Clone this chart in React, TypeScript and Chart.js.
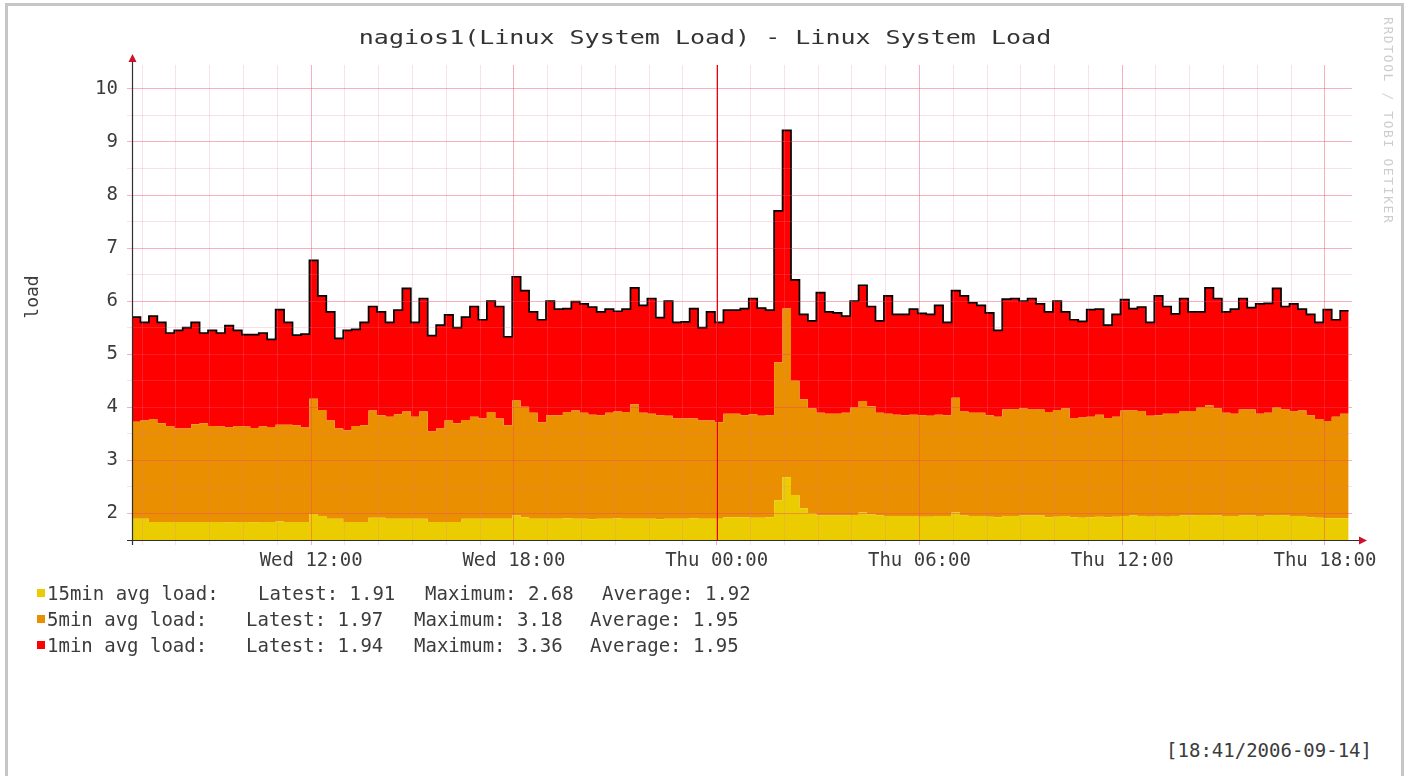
import { useEffect, useRef } from 'react';
import { Chart, registerables } from 'chart.js';

Chart.register(...registerables);

// Time axis in hours counted from Wed 00:00; one sample every 15 minutes
const START_HOUR = 6.7;
const STEP_HOURS = 0.25;
const X_MIN = 6.7;
const X_MAX = 42.8;
const Y_MIN = 1.5;
const Y_MAX = 10.45;

const load15 = [
  1.90, 1.90, 1.84, 1.84, 1.84, 1.84, 1.84, 1.84, 1.84, 1.84,
  1.84, 1.83, 1.84, 1.84, 1.83, 1.84, 1.84, 1.85, 1.84, 1.84,
  1.84, 1.99, 1.95, 1.90, 1.90, 1.84, 1.84, 1.84, 1.92, 1.92,
  1.90, 1.90, 1.90, 1.90, 1.90, 1.84, 1.84, 1.84, 1.84, 1.90,
  1.90, 1.90, 1.90, 1.90, 1.90, 1.96, 1.93, 1.90, 1.90, 1.90,
  1.90, 1.91, 1.90, 1.90, 1.89, 1.90, 1.90, 1.91, 1.90, 1.90,
  1.90, 1.90, 1.89, 1.90, 1.90, 1.90, 1.91, 1.90, 1.90, 1.90,
  1.93, 1.93, 1.93, 1.92, 1.92, 1.93, 2.25, 2.68, 2.35, 2.10,
  2.00, 1.96, 1.96, 1.96, 1.96, 1.97, 2.02, 1.98, 1.96, 1.95,
  1.95, 1.95, 1.95, 1.94, 1.94, 1.95, 1.95, 2.02, 1.96, 1.95,
  1.95, 1.94, 1.93, 1.95, 1.95, 1.96, 1.96, 1.96, 1.93, 1.94,
  1.95, 1.93, 1.92, 1.93, 1.94, 1.93, 1.94, 1.95, 1.96, 1.95,
  1.94, 1.95, 1.94, 1.95, 1.96, 1.96, 1.97, 1.97, 1.96, 1.95,
  1.95, 1.96, 1.96, 1.95, 1.96, 1.97, 1.96, 1.95, 1.95, 1.93,
  1.92, 1.91, 1.91, 1.91,
];

const load5 = [
  1.83, 1.85, 1.94, 1.86, 1.81, 1.76, 1.76, 1.84, 1.86, 1.81,
  1.80, 1.79, 1.81, 1.80, 1.78, 1.80, 1.79, 1.82, 1.83, 1.82,
  1.78, 2.17, 2.00, 1.85, 1.70, 1.73, 1.81, 1.82, 2.02, 1.93,
  1.92, 1.97, 2.02, 1.92, 2.02, 1.71, 1.76, 1.91, 1.86, 1.86,
  1.92, 1.89, 2.01, 1.89, 1.76, 2.17, 2.08, 2.00, 1.82, 1.95,
  1.95, 2.00, 2.04, 2.00, 1.97, 1.95, 2.00, 2.01, 2.01, 2.16,
  2.00, 1.98, 1.96, 1.94, 1.89, 1.89, 1.88, 1.85, 1.85, 1.82,
  1.95, 1.95, 1.92, 1.95, 1.92, 1.92, 2.60, 3.18, 2.15, 2.05,
  1.98, 1.94, 1.92, 1.92, 1.94, 2.03, 2.10, 2.04, 1.94, 1.93,
  1.91, 1.90, 1.91, 1.91, 1.90, 1.91, 1.90, 2.16, 1.96, 1.95,
  1.95, 1.91, 1.89, 2.01, 2.02, 2.02, 2.01, 2.00, 1.98, 2.01,
  2.03, 1.87, 1.89, 1.89, 1.92, 1.87, 1.88, 1.99, 1.98, 1.98,
  1.90, 1.90, 1.94, 1.93, 1.97, 1.97, 2.03, 2.07, 2.02, 1.95,
  1.93, 2.00, 2.00, 1.93, 1.94, 2.03, 2.00, 1.97, 1.99, 1.92,
  1.86, 1.83, 1.91, 1.97,
];

const load1 = [
  1.97, 1.85, 1.94, 1.90, 1.75, 1.85, 1.90, 1.92, 1.70, 1.80,
  1.76, 1.92, 1.80, 1.73, 1.76, 1.76, 1.65, 2.17, 1.93, 1.70,
  1.76, 2.61, 2.15, 2.05, 1.70, 1.88, 1.82, 1.94, 1.96, 1.95,
  1.78, 1.96, 2.32, 1.78, 2.13, 1.80, 1.95, 1.99, 1.80, 1.94,
  2.08, 1.86, 2.09, 2.11, 1.67, 2.33, 2.19, 1.90, 1.93, 2.15,
  2.00, 1.95, 2.05, 2.05, 2.03, 1.95, 1.95, 1.89, 1.94, 2.19,
  2.02, 2.17, 1.84, 2.16, 1.81, 1.82, 2.07, 1.75, 2.05, 1.88,
  1.95, 1.95, 2.01, 2.18, 2.03, 1.98, 2.85, 3.36, 1.90, 1.60,
  1.65, 2.26, 1.92, 1.90, 1.82, 2.00, 2.18, 1.88, 1.73, 2.22,
  1.89, 1.90, 1.99, 1.92, 1.91, 2.06, 1.75, 2.02, 2.18, 2.07,
  2.02, 1.93, 1.63, 2.08, 2.08, 2.02, 2.08, 1.99, 1.89, 2.05,
  1.82, 1.85, 1.81, 2.02, 1.99, 1.75, 1.93, 2.09, 1.92, 1.96,
  1.76, 2.25, 2.02, 1.88, 2.12, 1.87, 1.80, 2.21, 2.07, 1.90,
  1.97, 2.09, 1.92, 2.07, 2.06, 2.24, 1.94, 2.03, 1.91, 1.90,
  1.82, 2.10, 1.83, 1.94,
];

const SERIES_COLORS = ['#EACC00', '#EA8F00', '#FF0000'];
const SERIES_NAMES = ['15min avg load', '5min avg load', '1min avg load'];

const X_GRID_HOURS = [
  7, 8, 9, 10, 11, 12, 13, 14, 15, 16, 17, 18, 19, 20, 21, 22, 23, 24,
  25, 26, 27, 28, 29, 30, 31, 32, 33, 34, 35, 36, 37, 38, 39, 40, 41, 42,
];
const X_LABEL_HOURS = [12, 18, 24, 30, 36, 42];
const X_LABELS = ['Wed 12:00', 'Wed 18:00', 'Thu 00:00', 'Thu 06:00', 'Thu 12:00', 'Thu 18:00'];
const Y_GRID_VALUES = [2, 2.5, 3, 3.5, 4, 4.5, 5, 5.5, 6, 6.5, 7, 7.5, 8, 8.5, 9, 9.5, 10];
const Y_LABEL_VALUES = [2, 3, 4, 5, 6, 7, 8, 9, 10];
const VRULE_HOUR = 24;

const TITLE = 'nagios1(Linux System Load) - Linux System Load';
const Y_TITLE = 'load';
const WATERMARK = 'RRDTOOL / TOBI OETIKER';
const TIMESTAMP = '[18:41/2006-09-14]';

const LEGEND_NAMES = ['15min avg load:', '5min avg load:', '1min avg load:'];
const LEGEND_LATEST = ['Latest: 1.91', 'Latest: 1.97', 'Latest: 1.94'];
const LEGEND_MAX = ['Maximum: 2.68', 'Maximum: 3.18', 'Maximum: 3.36'];
const LEGEND_AVG = ['Average: 1.92', 'Average: 1.95', 'Average: 1.95'];

const MONO = "'DejaVu Sans Mono', monospace";
const TEXT_COLOR = '#3c3c3c';
const GRID_MINOR = 'rgba(225, 130, 160, 0.24)';
const GRID_MAJOR = 'rgba(235, 70, 100, 0.42)';

function toPoints(values: number[]) {
  const ext = [...values, values[values.length - 1]];
  return ext.map((y, i) => ({ x: START_HOUR + i * STEP_HOURS, y }));
}

const rrdDecor = {
  id: 'rrdDecor',
  afterDraw(chart: any) {
    const { ctx, chartArea } = chart;
    const xs = chart.scales.x;
    const { left, right, top, bottom } = chartArea;
    ctx.save();
    // VRULE at midnight
    const vx = Math.round(xs.getPixelForValue(VRULE_HOUR)) + 0.5;
    ctx.strokeStyle = '#ee0000';
    ctx.lineWidth = 1;
    ctx.beginPath();
    ctx.moveTo(vx, top);
    ctx.lineTo(vx, bottom);
    ctx.stroke();
    // axes
    ctx.strokeStyle = '#2f2f2f';
    ctx.lineWidth = 1.2;
    ctx.beginPath();
    ctx.moveTo(left + 0.5, bottom + 5);
    ctx.lineTo(left + 0.5, top - 6);
    ctx.moveTo(left - 5, bottom + 0.5);
    ctx.lineTo(right + 10, bottom + 0.5);
    ctx.stroke();
    // arrows
    ctx.fillStyle = '#d0102a';
    ctx.beginPath();
    ctx.moveTo(left + 0.5, top - 11);
    ctx.lineTo(left - 3.5, top - 3);
    ctx.lineTo(left + 4.5, top - 3);
    ctx.closePath();
    ctx.fill();
    ctx.beginPath();
    ctx.moveTo(right + 15, bottom + 0.5);
    ctx.lineTo(right + 7, bottom - 3.5);
    ctx.lineTo(right + 7, bottom + 4.5);
    ctx.closePath();
    ctx.fill();
    ctx.restore();
  },
};

function RrdChart() {
  const ref = useRef<HTMLCanvasElement | null>(null);
  useEffect(() => {
    if (!ref.current) return;
    const series = [load15, load5, load1];
    const chart = new Chart(ref.current, {
      type: 'line',
      data: {
        datasets: series.map((vals, i) => ({
          label: SERIES_NAMES[i],
          data: toPoints(vals),
          backgroundColor: SERIES_COLORS[i],
          borderColor: i === 2 ? '#000000' : 'rgba(0,0,0,0)',
          borderWidth: i === 2 ? 1.7 : 0,
          fill: i === 0 ? 'origin' : '-1',
          stepped: 'before' as const,
          pointRadius: 0,
          pointHoverRadius: 0,
        })),
      },
      options: {
        animation: false,
        responsive: false,
        events: [],
        layout: { padding: { left: 72, right: 56, top: 65, bottom: 30 } },
        plugins: {
          legend: { display: false },
          tooltip: { enabled: false },
          title: { display: false },
        },
        scales: {
          x: {
            type: 'linear',
            min: X_MIN,
            max: X_MAX,
            afterBuildTicks: (s: any) => {
              s.ticks = X_GRID_HOURS.map((v) => ({ value: v }));
            },
            afterFit: (s: any) => {
              s.height = 30;
            },
            ticks: {
              autoSkip: false,
              maxRotation: 0,
              minRotation: 0,
              padding: 5,
              color: TEXT_COLOR,
              font: { family: MONO, size: 19 },
              callback: (v: any) => {
                const idx = X_LABEL_HOURS.indexOf(Number(v));
                return idx >= 0 ? X_LABELS[idx] : '';
              },
            },
            grid: {
              z: 1,
              tickLength: 5,
              color: (c: any) =>
                c.tick && X_LABEL_HOURS.includes(c.tick.value) ? GRID_MAJOR : GRID_MINOR,
            },
            border: { display: false },
          },
          y: {
            stacked: true,
            min: Y_MIN,
            max: Y_MAX,
            afterBuildTicks: (s: any) => {
              s.ticks = Y_GRID_VALUES.map((v) => ({ value: v }));
            },
            afterFit: (s: any) => {
              s.width = 60;
            },
            ticks: {
              autoSkip: false,
              padding: 9,
              color: TEXT_COLOR,
              font: { family: MONO, size: 19 },
              callback: (v: any) =>
                Y_LABEL_VALUES.includes(Number(v)) ? String(v) : '',
            },
            grid: {
              z: 1,
              tickLength: 5,
              color: (c: any) =>
                c.tick && Y_LABEL_VALUES.includes(c.tick.value) ? GRID_MAJOR : GRID_MINOR,
            },
            border: { display: false },
          },
        },
      },
      plugins: [rrdDecor],
    } as any);
    return () => chart.destroy();
  }, []);
  return (
    <canvas
      ref={ref}
      width={1408}
      height={600}
      style={{ position: 'absolute', left: 0, top: 0, width: 1408, height: 600 }}
    />
  );
}

const textBase: any = {
  position: 'absolute',
  fontFamily: MONO,
  color: TEXT_COLOR,
  whiteSpace: 'pre',
  lineHeight: '24px',
  height: 24,
};

export default function App() {
  const rowY = [593, 619, 645];
  const latestX = [258, 246, 246];
  const maxX = [425, 414, 414];
  const avgX = [602, 590, 590];
  return (
    <div
      style={{
        position: 'fixed',
        left: 0,
        top: 0,
        width: 1408,
        height: 776,
        overflow: 'hidden',
        background: '#ffffff',
      }}
    >
      <div
        style={{
          position: 'absolute',
          left: 5,
          top: 3,
          width: 1399,
          height: 900,
          boxSizing: 'border-box',
          border: '3px solid #c6c6c6',
        }}
      />
      <RrdChart />
      <div
        style={{
          ...textBase,
          left: 705,
          top: 37,
          fontSize: 20,
          color: '#333',
          transform: 'translate(-50%, -50%) scaleX(1.25)',
        }}
      >
        {TITLE}
      </div>
      <div
        style={{
          ...textBase,
          left: 32,
          top: 297,
          fontSize: 18,
          transform: 'translate(-50%, -50%) rotate(-90deg)',
        }}
      >
        {Y_TITLE}
      </div>
      <div
        style={{
          position: 'absolute',
          left: 1381,
          top: 17,
          writingMode: 'vertical-rl',
          fontFamily: MONO,
          fontSize: 13,
          letterSpacing: 1.6,
          color: '#cdcdcd',
          whiteSpace: 'pre',
        }}
      >
        {WATERMARK}
      </div>
      {rowY.map((y, i) => (
        <div key={i}>
          <div
            style={{
              position: 'absolute',
              left: 37,
              top: y - 4,
              width: 8,
              height: 8,
              background: SERIES_COLORS[i],
            }}
          />
          <div style={{ ...textBase, left: 47, top: y - 12, fontSize: 19 }}>{LEGEND_NAMES[i]}</div>
          <div style={{ ...textBase, left: latestX[i], top: y - 12, fontSize: 19 }}>{LEGEND_LATEST[i]}</div>
          <div style={{ ...textBase, left: maxX[i], top: y - 12, fontSize: 19 }}>{LEGEND_MAX[i]}</div>
          <div style={{ ...textBase, left: avgX[i], top: y - 12, fontSize: 19 }}>{LEGEND_AVG[i]}</div>
        </div>
      ))}
      <div
        style={{
          ...textBase,
          right: 1408 - 1372,
          top: 738,
          fontSize: 19,
        }}
      >
        {TIMESTAMP}
      </div>
    </div>
  );
}
